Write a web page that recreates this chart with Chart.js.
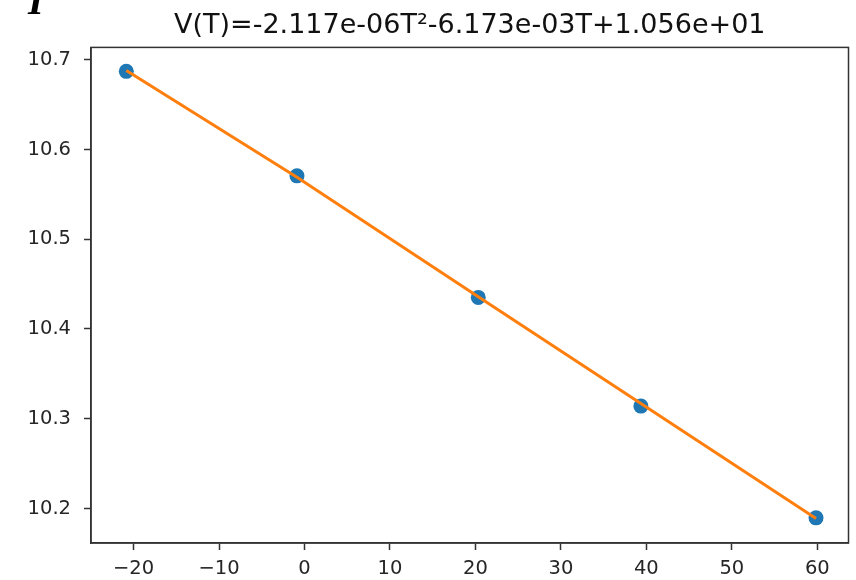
<!DOCTYPE html>
<html>
<head>
<meta charset="utf-8">
<script src="https://cdn.jsdelivr.net/npm/chart.js@4/dist/chart.umd.min.js"></script>
<style>
  body { margin: 0; background: #fff; }
</style>
</head>
<body>
<canvas id="myChart" width="856" height="580"></canvas>
<script>
// measured points (temperature, volume)
var temps = [-20.85, -0.88, 20.33, 39.36, 59.85]
var volumes = [10.687, 10.5706, 10.4352, 10.3141, 10.1896]
// fitted curve as drawn
var fitVolumes = [10.688, 10.569, 10.436, 10.317, 10.189]

var xTicks = [-20, -10, 0, 10, 20, 30, 40, 50, 60]
var xTickLabels = ['\u221220', '\u221210', '0', '10', '20', '30', '40', '50', '60']
var yTicks = [10.2, 10.3, 10.4, 10.5, 10.6, 10.7]
var yTickLabels = ['10.2', '10.3', '10.4', '10.5', '10.6', '10.7']

var titleText = 'V(T)=-2.117e-06T\u00b2-6.173e-03T+1.056e+01'

var pointData = temps.map((t, i) => ({ x: t, y: volumes[i] }))
var fitData = temps.map((t, i) => ({ x: t, y: fitVolumes[i] }))

var frame = {
    id: 'frame',
    afterDraw(chart) {
        var ctx = chart.ctx
        var a = chart.chartArea
        ctx.save()
        ctx.strokeStyle = '#333'
        ctx.lineWidth = 1.5
        ctx.strokeRect(a.left, a.top, a.right - a.left, a.bottom - a.top)
        // stray glyph in the top left corner
        ctx.fillStyle = '#000'
        ctx.font = 'italic bold 40px "Liberation Serif"'
        ctx.textBaseline = 'alphabetic'
        ctx.fillText('I', 28, 14)
        ctx.restore()
    }
}

var tickFont = { family: 'DejaVu Sans', size: 19.5 }

let myChart = document.getElementById('myChart').getContext('2d')
let fitChart = new Chart(myChart, {
    type: 'scatter',
    data: {
        datasets: [{
            type: 'line',
            label: 'fit',
            data: fitData,
            borderColor: '#ff7f0e',
            borderWidth: 3,
            pointRadius: 0,
            fill: false,
            tension: 0,
            order: 0
        }, {
            label: 'data',
            data: pointData,
            backgroundColor: '#1f77b4',
            borderColor: '#1f77b4',
            pointRadius: 7.5,
            borderWidth: 0,
            order: 1
        }]
    },
    options: {
        responsive: false,
        animation: false,
        layout: { padding: { left: 0, right: 2, top: 0, bottom: 0 } },
        plugins: {
            legend: { display: false },
            tooltip: { enabled: false },
            title: {
                display: true,
                text: titleText,
                fullSize: false,
                color: '#111',
                font: { family: 'DejaVu Sans', size: 27, weight: 'normal' },
                padding: { top: 10, bottom: 5 }
            }
        },
        scales: {
            x: {
                type: 'linear',
                min: -24.98,
                max: 63.65,
                afterBuildTicks: axis => { axis.ticks = xTicks.map(v => ({ value: v })) },
                afterFit: scale => { scale.height = 37 },
                ticks: {
                    font: tickFont,
                    color: '#262626',
                    padding: 7,
                    maxRotation: 0,
                    autoSkip: false,
                    callback: (v) => xTickLabels[xTicks.indexOf(v)]
                },
                grid: { drawOnChartArea: false, drawTicks: true, tickLength: 7, tickColor: '#333', tickWidth: 1.5 },
                border: { display: true, color: '#333', width: 1.5 }
            },
            y: {
                type: 'linear',
                min: 10.1616,
                max: 10.7137,
                afterBuildTicks: axis => { axis.ticks = yTicks.map(v => ({ value: v })) },
                afterFit: scale => { scale.width = 91 },
                ticks: {
                    font: tickFont,
                    color: '#262626',
                    padding: 13,
                    autoSkip: false,
                    callback: (v) => yTickLabels[yTicks.indexOf(v)]
                },
                grid: { drawOnChartArea: false, drawTicks: true, tickLength: 7, tickColor: '#333', tickWidth: 1.5 },
                border: { display: true, color: '#333', width: 1.5 }
            }
        }
    },
    plugins: [frame]
});
</script>
</body>
</html>
